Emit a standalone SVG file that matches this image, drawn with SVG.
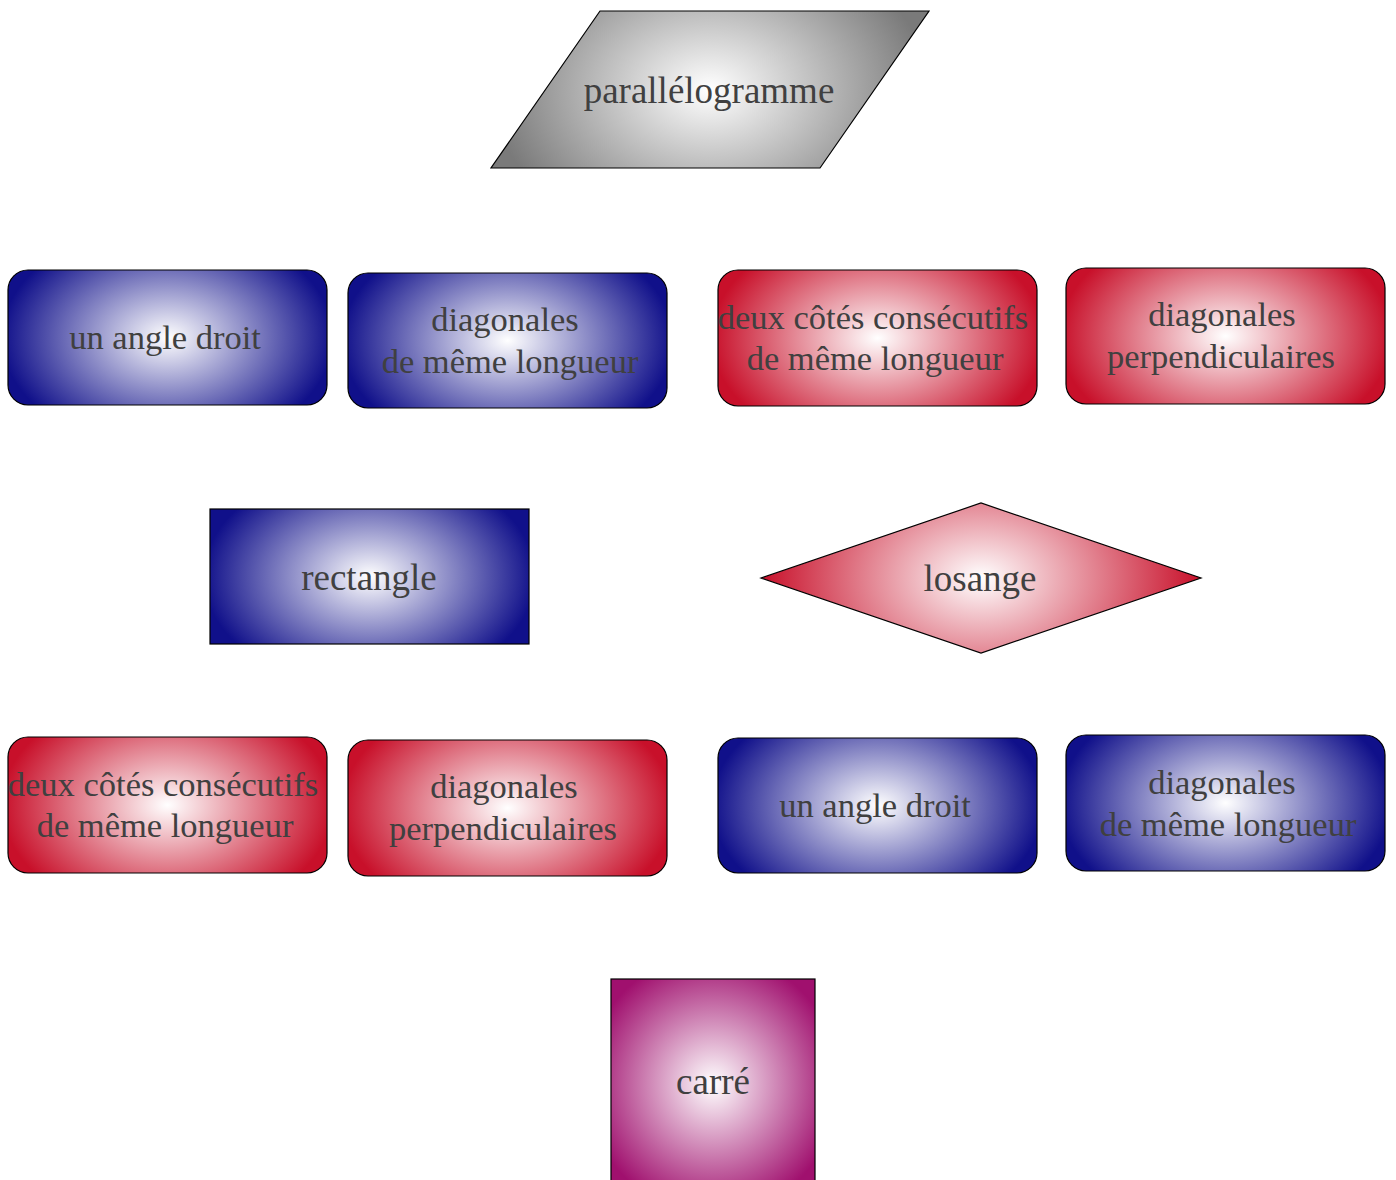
<svg xmlns="http://www.w3.org/2000/svg" width="1396" height="1180" viewBox="0 0 1396 1180">
<style>
text{font-family:"Liberation Serif","Times New Roman",serif;font-size:34.5px;fill:#404040;text-anchor:middle}
text.big{font-size:37px}
.sh{stroke:#000;stroke-width:1.2}
</style>
<defs>
<radialGradient id="gBlue" cx="0.5" cy="0.5" r="0.52" gradientTransform="translate(0.5,0.5) scale(1,1.6) translate(-0.5,-0.5)"><stop offset="0" stop-color="#ffffff"/><stop offset="1" stop-color="#10108a"/></radialGradient>
<radialGradient id="gRed" cx="0.5" cy="0.5" r="0.52" gradientTransform="translate(0.5,0.5) scale(1,1.6) translate(-0.5,-0.5)"><stop offset="0" stop-color="#ffffff"/><stop offset="1" stop-color="#c8102a"/></radialGradient>
<radialGradient id="gGray" cx="0.5" cy="0.5" r="0.5" gradientTransform="translate(0.5,0.5) scale(1,2) translate(-0.5,-0.5)"><stop offset="0" stop-color="#ffffff"/><stop offset="1" stop-color="#7a7a7a"/></radialGradient>
<radialGradient id="gPurple" cx="0.5" cy="0.5" r="0.62"><stop offset="0" stop-color="#ffffff"/><stop offset="1" stop-color="#a0106e"/></radialGradient>
<radialGradient id="gRedD" cx="0.5" cy="0.5" r="0.5" gradientTransform="translate(0.5,0.5) scale(1,2) translate(-0.5,-0.5)"><stop offset="0" stop-color="#ffffff"/><stop offset="1" stop-color="#c8102a"/></radialGradient>
</defs>
<g id="connectors"/>
<g id="parallelogramme">
<polygon class="sh" points="600,11 929,11 820,168 491,168" fill="url(#gGray)"/>
<text class="big" x="709" y="103">parallélogramme</text>
</g>
<g id="angle1">
<rect class="sh" x="8" y="270" width="319" height="135" rx="20" fill="url(#gBlue)"/>
<text x="165" y="349">un angle droit</text>
</g>
<g id="diag1">
<rect class="sh" x="348" y="273" width="319" height="135" rx="20" fill="url(#gBlue)"/>
<text x="505" y="331">diagonales</text>
<text x="510" y="373">de même longueur</text>
</g>
<g id="cotes1">
<rect class="sh" x="718" y="270" width="319" height="136" rx="20" fill="url(#gRed)"/>
<text x="873" y="329">deux côtés consécutifs</text>
<text x="875" y="370">de même longueur</text>
</g>
<g id="perp1">
<rect class="sh" x="1066" y="268" width="319" height="136" rx="20" fill="url(#gRed)"/>
<text x="1222" y="326">diagonales</text>
<text x="1221" y="368">perpendiculaires</text>
</g>
<g id="rectangle">
<rect class="sh" x="210" y="509" width="319" height="135" fill="url(#gBlue)"/>
<text class="big" x="369" y="590">rectangle</text>
</g>
<g id="losange">
<polygon class="sh" points="761,578 981,503 1201,578 981,653" fill="url(#gRedD)"/>
<text class="big" x="980" y="591">losange</text>
</g>
<g id="cotes2">
<rect class="sh" x="8" y="737" width="319" height="136" rx="20" fill="url(#gRed)"/>
<text x="163" y="796">deux côtés consécutifs</text>
<text x="165" y="837">de même longueur</text>
</g>
<g id="perp2">
<rect class="sh" x="348" y="740" width="319" height="136" rx="20" fill="url(#gRed)"/>
<text x="504" y="798">diagonales</text>
<text x="503" y="840">perpendiculaires</text>
</g>
<g id="angle2">
<rect class="sh" x="718" y="738" width="319" height="135" rx="20" fill="url(#gBlue)"/>
<text x="875" y="817">un angle droit</text>
</g>
<g id="diag2">
<rect class="sh" x="1066" y="735" width="319" height="136" rx="20" fill="url(#gBlue)"/>
<text x="1222" y="794">diagonales</text>
<text x="1228" y="836">de même longueur</text>
</g>
<g id="carre">
<rect class="sh" x="611" y="979" width="204" height="210" fill="url(#gPurple)"/>
<text class="big" x="713" y="1094">carré</text>
</g>
</svg>
